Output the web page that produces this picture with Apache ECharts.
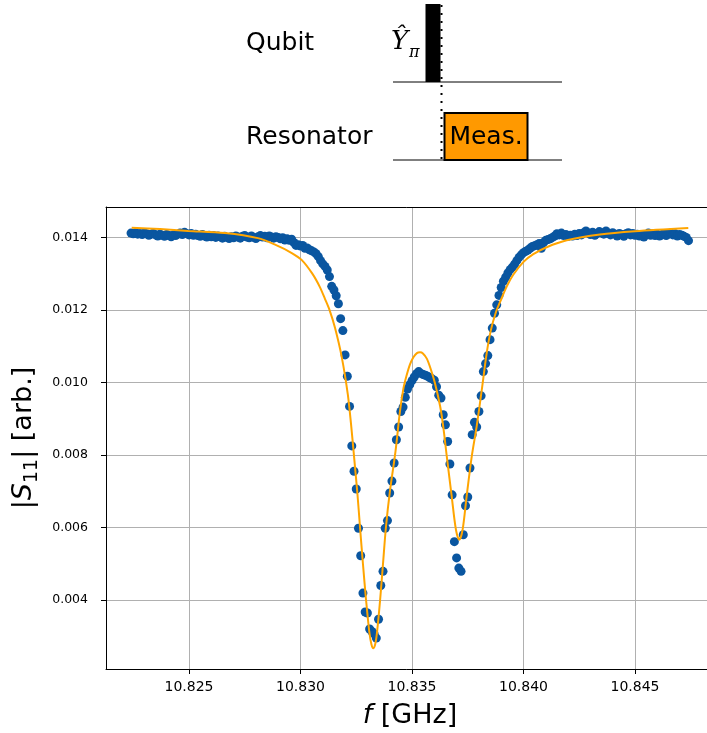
<!DOCTYPE html>
<html>
<head>
<meta charset="utf-8">
<script src="https://cdn.jsdelivr.net/npm/echarts@6/dist/echarts.min.js"></script>
<style>
  html, body { margin: 0; padding: 0; background: #ffffff; }
  #chart { width: 707px; height: 733px; }
</style>
</head>
<body>
<div id="chart"></div>
<script>
// Frequency sweep of the readout (GHz)
const sweepStartGHz = 10.8224;
const sweepStepGHz = 0.0001;

// Measured |S11| for each sweep point
const s11Measured = [
  0.01412, 0.01410, 0.01413, 0.01409, 0.01411, 0.01408, 0.01412, 0.01410, 0.01406, 0.01409,
  0.01411, 0.01407, 0.01404, 0.01409, 0.01406, 0.01403, 0.01408, 0.01405, 0.01402, 0.01407,
  0.01405, 0.01409, 0.01412, 0.01408, 0.01414, 0.01410, 0.01407, 0.01411, 0.01406, 0.01409,
  0.01405, 0.01403, 0.01408, 0.01404, 0.01401, 0.01406, 0.01402, 0.01405, 0.01400, 0.01404,
  0.01402, 0.01398, 0.01403, 0.01400, 0.01397, 0.01402, 0.01399, 0.01404, 0.01401, 0.01398,
  0.01403, 0.01405, 0.01401, 0.01399, 0.01404, 0.01400, 0.01397, 0.01402, 0.01405, 0.01401,
  0.01403, 0.01399, 0.01404, 0.01401, 0.01398, 0.01402, 0.01400, 0.01396, 0.01399, 0.01393,
  0.01396, 0.01392, 0.01395, 0.01386, 0.01378, 0.01380, 0.01376, 0.01378, 0.01370, 0.01371,
  0.01366, 0.01363, 0.01360, 0.01355, 0.01347, 0.01336, 0.01327, 0.01320, 0.01310, 0.01292,
  0.01265, 0.01255, 0.01239, 0.01217, 0.01176, 0.01143, 0.01076, 0.01017, 0.00934, 0.00825,
  0.00755, 0.00706, 0.00598, 0.00522, 0.00419, 0.00367, 0.00364, 0.00320, 0.00313, 0.00307,
  0.00295, 0.00347, 0.00440, 0.00479, 0.00598, 0.00619, 0.00695, 0.00728, 0.00778, 0.00842,
  0.00877, 0.00920, 0.00932, 0.00959, 0.00982, 0.00994, 0.01005, 0.01015, 0.01024, 0.01030,
  0.01025, 0.01022, 0.01020, 0.01017, 0.01013, 0.01010, 0.01006, 0.00988, 0.00965, 0.00957,
  0.00911, 0.00883, 0.00837, 0.00775, 0.00690, 0.00561, 0.00516, 0.00488, 0.00479, 0.00580,
  0.00660, 0.00684, 0.00764, 0.00856, 0.00890, 0.00877, 0.00920, 0.00963, 0.01030, 0.01052,
  0.01074, 0.01118, 0.01150, 0.01191, 0.01214, 0.01240, 0.01262, 0.01279, 0.01290, 0.01302,
  0.01311, 0.01318, 0.01326, 0.01336, 0.01345, 0.01352, 0.01358, 0.01362, 0.01365, 0.01370,
  0.01375, 0.01377, 0.01380, 0.01383, 0.01370, 0.01386, 0.01392, 0.01394, 0.01396, 0.01400,
  0.01404, 0.01410, 0.01407, 0.01412, 0.01405, 0.01408, 0.01403, 0.01406, 0.01404, 0.01409,
  0.01405, 0.01411, 0.01407, 0.01413, 0.01418, 0.01412, 0.01408, 0.01414, 0.01406, 0.01411,
  0.01416, 0.01413, 0.01409, 0.01418, 0.01411, 0.01407, 0.01413, 0.01409, 0.01404, 0.01411,
  0.01408, 0.01403, 0.01410, 0.01413, 0.01407, 0.01411, 0.01406, 0.01409, 0.01404, 0.01408,
  0.01401, 0.01407, 0.01412, 0.01406, 0.01410, 0.01405, 0.01409, 0.01404, 0.01407, 0.01411,
  0.01405, 0.01409, 0.01412, 0.01407, 0.01410, 0.01404, 0.01408, 0.01406, 0.01403, 0.01400,
  0.01391
];

// Fitted response (double-dip model), sampled along frequency
const fitFreq = [
  10.82243, 10.82370, 10.82497, 10.82661, 10.82809, 10.82886, 10.82961, 10.83005,
  10.83053, 10.83087, 10.83110, 10.83130, 10.83155, 10.83185, 10.83212, 10.83226,
  10.83241, 10.83255, 10.83267, 10.83280, 10.83294, 10.83309, 10.83318, 10.83326,
  10.83335, 10.83343, 10.83357, 10.83370, 10.83383, 10.83401, 10.83426, 10.83446,
  10.83462, 10.83476, 10.83491, 10.83507, 10.83522, 10.83536, 10.83549, 10.83567,
  10.83585, 10.83603, 10.83626, 10.83640, 10.83656, 10.83678, 10.83697, 10.83712,
  10.83727, 10.83745, 10.83768, 10.83790, 10.83813, 10.83835, 10.83854, 10.83877,
  10.83895, 10.83925, 10.83954, 10.83999, 10.84044, 10.84104, 10.84194, 10.84343,
  10.84500, 10.84739
];
const fitS11 = [
  0.01427, 0.01423, 0.01418, 0.01412, 0.01398, 0.01380, 0.01357, 0.01338,
  0.01300, 0.01263, 0.01230, 0.01200, 0.01150, 0.01070, 0.00968, 0.00889,
  0.00790, 0.00695, 0.00600, 0.00500, 0.00400, 0.00310, 0.00278, 0.00267,
  0.00278, 0.00310, 0.00400, 0.00500, 0.00600, 0.00700, 0.00810, 0.00920,
  0.00985, 0.01020, 0.01050, 0.01070, 0.01081, 0.01083, 0.01080, 0.01065,
  0.01035, 0.00998, 0.00935, 0.00879, 0.00796, 0.00686, 0.00594, 0.00566,
  0.00594, 0.00686, 0.00796, 0.00879, 0.00980, 0.01081, 0.01145, 0.01195,
  0.01222, 0.01265, 0.01297, 0.01332, 0.01354, 0.01373, 0.01392, 0.01408,
  0.01417, 0.01426
];

// Tick positions
const freqTicks = [10.825, 10.830, 10.835, 10.840, 10.845];
const s11Ticks = [0.004, 0.006, 0.008, 0.010, 0.012, 0.014];

const measuredPoints = s11Measured.map((v, i) => [+(sweepStartGHz + i * sweepStepGHz).toFixed(4), v]);
const fitPoints = fitFreq.map((f, i) => [f, fitS11[i]]);

const FONT = 'DejaVu Sans';
const xMin = 10.821278, xMax = 10.848543;
const yMin = 0.002097, yMax = 0.014839;

const chart = echarts.init(document.getElementById('chart'), null, { renderer: 'canvas' });

chart.setOption({
  animation: false,
  backgroundColor: '#ffffff',
  grid: { left: 106, right: -7, top: 207, bottom: 64, containLabel: false, outerBoundsMode: 'none' },
  xAxis: [
    {
      type: 'value', min: xMin, max: xMax, position: 'bottom',
      axisLine: { onZero: false, lineStyle: { color: '#000', width: 1 } },
      axisTick: { customValues: freqTicks, length: 5, lineStyle: { color: '#000', width: 1 } },
      axisLabel: { customValues: freqTicks, formatter: v => v.toFixed(3), color: '#000', fontFamily: FONT, fontSize: 14, margin: 11 },
      splitLine: { show: true, lineStyle: { color: '#b0b0b0', width: 1 } },
      name: '{i|f} [GHz]', nameLocation: 'middle', nameGap: 33,
      nameTextStyle: { color: '#000', fontFamily: FONT, fontSize: 27,
        rich: { i: { fontStyle: 'italic', fontFamily: FONT, fontSize: 27, color: '#000' } } }
    },
    {
      type: 'value', min: xMin, max: xMax, position: 'top',
      axisLine: { show: true, onZero: false, lineStyle: { color: '#000', width: 1 } },
      axisTick: { show: false }, axisLabel: { show: false }, splitLine: { show: false }
    }
  ],
  yAxis: [
    {
      type: 'value', min: yMin, max: yMax,
      axisLine: { show: true, onZero: false, lineStyle: { color: '#000', width: 1 } },
      axisTick: { show: true, customValues: s11Ticks, length: 5, lineStyle: { color: '#000', width: 1 } },
      axisLabel: { customValues: s11Ticks, formatter: v => v.toFixed(3), color: '#000', fontFamily: FONT, fontSize: 12.5, margin: 18 },
      splitLine: { show: true, lineStyle: { color: '#b0b0b0', width: 1 } },
      name: '{n||}{i|S}{sub|11}{n|| [arb.]}', nameLocation: 'middle', nameGap: 60,
      nameTextStyle: { color: '#000', fontFamily: FONT, fontSize: 27,
        rich: {
          n: { fontFamily: FONT, fontSize: 27, lineHeight: 34, verticalAlign: 'middle', color: '#000' },
          i: { fontStyle: 'italic', fontFamily: FONT, fontSize: 27, lineHeight: 34, verticalAlign: 'middle', color: '#000' },
          sub: { fontFamily: FONT, fontSize: 19, lineHeight: 19, verticalAlign: 'bottom', color: '#000' }
        } }
    }
  ],
  series: [
    {
      name: 'measured', type: 'scatter', data: measuredPoints,
      symbol: 'circle', symbolSize: 9,
      itemStyle: { color: '#0a56a0', opacity: 1 },
      z: 2
    },
    {
      name: 'fit', type: 'line', data: fitPoints,
      showSymbol: false, smooth: 0.3,
      lineStyle: { color: '#ffa500', width: 2 },
      z: 3
    }
  ],
  graphic: [
    // pulse sequence schematic
    { type: 'text', x: 246, y: 43, style: { text: 'Qubit', fontFamily: FONT, fontSize: 25, fill: '#000', align: 'left', verticalAlign: 'middle' } },
    { type: 'text', x: 246, y: 137, style: { text: 'Resonator', fontFamily: FONT, fontSize: 25, fill: '#000', align: 'left', verticalAlign: 'middle' } },
    { type: 'line', shape: { x1: 393, y1: 82, x2: 562, y2: 82 }, style: { stroke: '#000', lineWidth: 1 } },
    { type: 'line', shape: { x1: 393, y1: 160, x2: 562, y2: 160 }, style: { stroke: '#000', lineWidth: 1 } },
    { type: 'rect', shape: { x: 425.5, y: 4, width: 15, height: 78 }, style: { fill: '#000' } },
    { type: 'rect', shape: { x: 444.5, y: 113, width: 83, height: 47 }, style: { fill: '#ff9900', stroke: '#000', lineWidth: 2 } },
    { type: 'line', shape: { x1: 441.5, y1: 5, x2: 441.5, y2: 160 }, style: { stroke: '#000', lineWidth: 2, lineDash: [2, 6] } },
    { type: 'text', x: 486, y: 137, style: { text: 'Meas.', fontFamily: FONT, fontSize: 25, fill: '#000', align: 'center', verticalAlign: 'middle' } },
    { type: 'text', x: 391, y: 42, style: { text: 'Ŷ', fontFamily: 'DejaVu Serif', fontStyle: 'italic', fontSize: 26, fill: '#000', align: 'left', verticalAlign: 'middle' } },
    { type: 'text', x: 409, y: 53, style: { text: 'π', fontFamily: 'DejaVu Serif', fontStyle: 'italic', fontSize: 16, fill: '#000', align: 'left', verticalAlign: 'middle' } }
  ]
});
</script>
</body>
</html>
